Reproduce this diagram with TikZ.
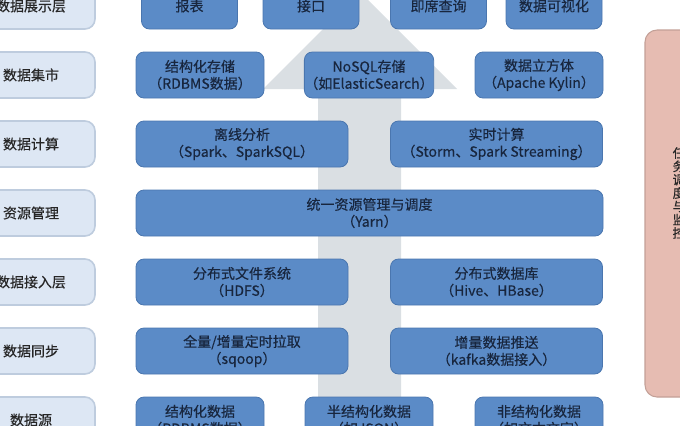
\documentclass[tikz,border=0pt]{standalone}
\usepackage{fontspec}
\setmainfont{Noto Sans CJK SC}[FakeBold=0.35]
\definecolor{blockblue}{RGB}{91,139,199}
\definecolor{blockline}{RGB}{74,118,175}
\definecolor{blocktext}{RGB}{24,38,62}
\definecolor{layerfill}{RGB}{221,231,244}
\definecolor{layerline}{RGB}{190,204,222}
\definecolor{arrowgray}{RGB}{218,223,227}
\definecolor{panelpink}{RGB}{230,188,178}
\begin{document}
\begin{tikzpicture}[x=0.75pt,y=0.75pt,yscale=-1,xscale=1,
  layer/.style={draw=layerline,line width=1.2pt,fill=layerfill,rounded corners=7.5pt,minimum width=96pt,minimum height=34.5pt,inner sep=0pt,text=black!85,font=\fontsize{10.5}{12.75}\selectfont},
  block/.style={draw=blockline,line width=0.6pt,fill=blockblue,rounded corners=6pt,minimum height=34.5pt,inner sep=0pt,align=center,text=blocktext,font=\fontsize{10.5}{12.75}\selectfont},
  small/.style={block,minimum width=72pt},
  mid/.style={block,minimum width=96pt},
  half/.style={block,minimum width=159pt},
  full/.style={block,minimum width=350.25pt}]
\useasboundingbox (0,0) rectangle (680,425);
\clip (0,0) rectangle (680,425);

%Shape: Big Arrow (background)
\fill [arrowgray] (318,400) -- (318,89) -- (263,89) -- (360,-8) -- (457,89) -- (401,89) -- (401,400) -- cycle ;

%Shape: Side Panel
\draw [fill=panelpink,draw=panelpink!85!black,line width=0.8pt,rounded corners=9pt] (645,30) rectangle (730,397) ;
% Text Node
\node (monitor) at (679,193) [align=center,text=black!85,font=\fontsize{9.5}{10}\selectfont] {任\\务\\调\\度\\与\\监\\控};

% Layer labels
\node [layer] (lshow) at (31,6) {数据展示层};
\node [layer] (lmart) at (31,75) {数据集市};
\node [layer] (lcalc) at (31,144) {数据计算};
\node [layer] (lres) at (31,213) {资源管理};
\node [layer] (lin) at (31,282) {数据接入层};
\node [layer] (lsync) at (31,351) {数据同步};
\node [layer] (lsrc) at (31,420) {数据源};

% Row: display
\node [small] (report) at (189.5,6) {报表};
\node [small] (api) at (311,6) {接口};
\node [small] (query) at (438.5,6) {即席查询};
\node [small] (vis) at (554,6) {数据可视化};

% Row: data mart
\node [mid] (rdbms) at (200,75) {结构化存储\\（RDBMS数据）};
\node [mid] (nosql) at (369,75) {NoSQL存储\\（如ElasticSearch）};
\node [mid] (kylin) at (539,75) {数据立方体\\（Apache Kylin）};

% Row: compute
\node [half] (offline) at (242,144) {离线分析\\（Spark、SparkSQL）};
\node [half] (realtime) at (496.5,144) {实时计算\\（Storm、Spark Streaming）};

% Row: resources
\node [full] (yarn) at (369.5,213) {统一资源管理与调度\\（Yarn）};

% Row: ingest
\node [half] (hdfs) at (242,282) {分布式文件系统\\（HDFS）};
\node [half] (hive) at (496.5,282) {分布式数据库\\（Hive、HBase）};

% Row: sync
\node [half] (sqoop) at (242,351) {全量/增量定时拉取\\（sqoop）};
\node [half] (kafka) at (496.5,351) {增量数据推送\\（kafka数据接入）};

% Row: sources
\node [mid] (struct) at (200,420) {结构化数据\\（RDBMS数据）};
\node [mid] (semi) at (369,420) {半结构化数据\\（如JSON）};
\node [mid] (unstruct) at (539,420) {非结构化数据\\（如文本文字）};

\end{tikzpicture}
\end{document}
